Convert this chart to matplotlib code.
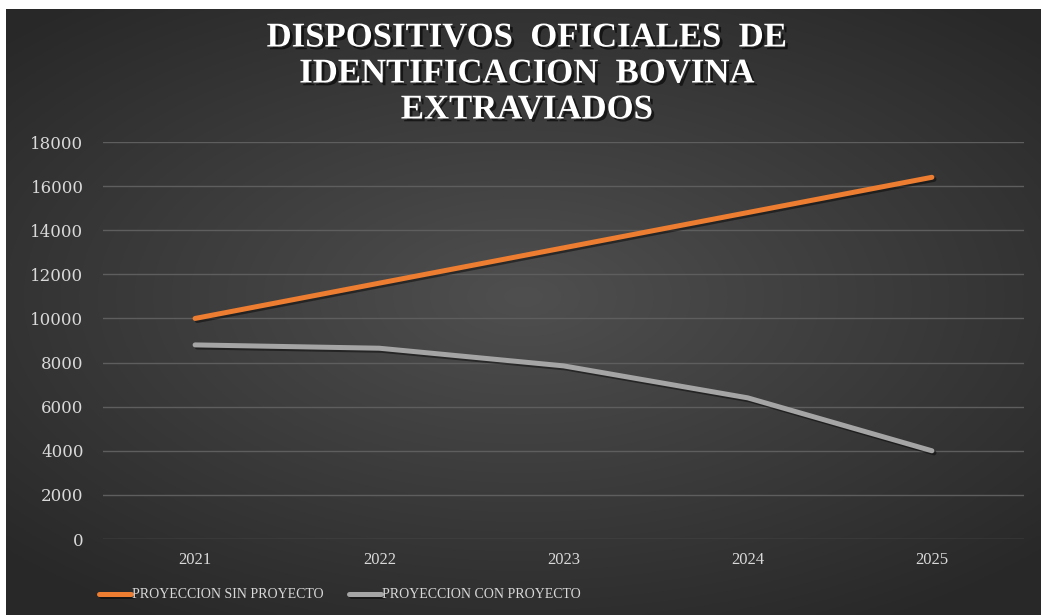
import numpy as np
import matplotlib
matplotlib.use('Agg')
import matplotlib.pyplot as plt
import matplotlib.patheffects as pe

years = ['2021', '2022', '2023', '2024', '2025']
sin_proyecto = [10000, 11600, 13200, 14800, 16400]
con_proyecto = [8800, 8650, 7850, 6400, 4000]
y_ticks = [0, 2000, 4000, 6000, 8000, 10000, 12000, 14000, 16000, 18000]

W, H = 1042, 615
fig = plt.figure(figsize=(W / 100, H / 100), dpi=100, facecolor='white')

# dark radial background of the chart area
bg = fig.add_axes([6 / W, 0, (1041 - 6) / W, (H - 9) / H], zorder=0)
gx, gy = np.meshgrid(np.linspace(-1, 1, 400), np.linspace(-1, 1, 240))
r = np.clip(np.sqrt((gx * 0.95) ** 2 + ((gy + 0.05) * 1.05) ** 2) / 1.3, 0, 1)
shade = 0.31 - 0.15 * r
bg.imshow(np.dstack([shade, shade, shade]), aspect='auto', extent=[0, 1, 0, 1],
          interpolation='bicubic')
bg.set_axis_off()

ax = fig.add_axes([103 / W, (H - 539) / H, (1024 - 103) / W, (539 - 142) / H], zorder=1)
ax.patch.set_alpha(0)

x = np.arange(len(years))
shadow = [pe.SimpleLineShadow(offset=(1.5, -1.5), shadow_color='black', alpha=0.45), pe.Normal()]
ax.plot(x, sin_proyecto, color='#ED7D31', lw=3.6, solid_capstyle='round',
        label='PROYECCION SIN PROYECTO', path_effects=shadow, zorder=3)
ax.plot(x, con_proyecto, color='#A5A5A5', lw=3.6, solid_capstyle='round',
        label='PROYECCION CON PROYECTO', path_effects=shadow, zorder=3)

ax.set_xlim(-0.5, len(years) - 0.5)
ax.set_ylim(0, 18000)
ax.set_yticks(y_ticks)
ax.set_yticklabels([str(v) for v in y_ticks], family='DejaVu Serif', fontsize=12,
                   color='#d9d9d9')
ax.set_xticks(x)
ax.set_xticklabels(years, family='Liberation Serif', fontsize=12, color='#d9d9d9')
ax.tick_params(axis='y', length=0, pad=14)
ax.tick_params(axis='x', length=0, pad=9)
ax.grid(axis='y', color='#5e5e5e', lw=1)
ax.set_axisbelow(True)
for s in ax.spines.values():
    s.set_visible(False)

title = 'DISPOSITIVOS  OFICIALES  DE\nIDENTIFICACION  BOVINA\nEXTRAVIADOS'
fig.text(527 / W, 1 - 74 / H, title, ha='center', va='center', family='Liberation Serif',
         fontweight='bold', fontsize=25, color='white', linespacing=1.12,
         path_effects=[pe.withSimplePatchShadow(offset=(2, -2), shadow_rgbFace='black', alpha=0.6)])

leg = fig.legend(loc='center', bbox_to_anchor=(340 / W, 1 - 595 / H), ncol=2, frameon=False,
                 prop={'family': 'Liberation Serif', 'size': 10}, labelcolor='#d9d9d9',
                 handlelength=2.3, handletextpad=0.1, columnspacing=1.8)

fig.savefig('out.png', dpi=100, facecolor='white')
